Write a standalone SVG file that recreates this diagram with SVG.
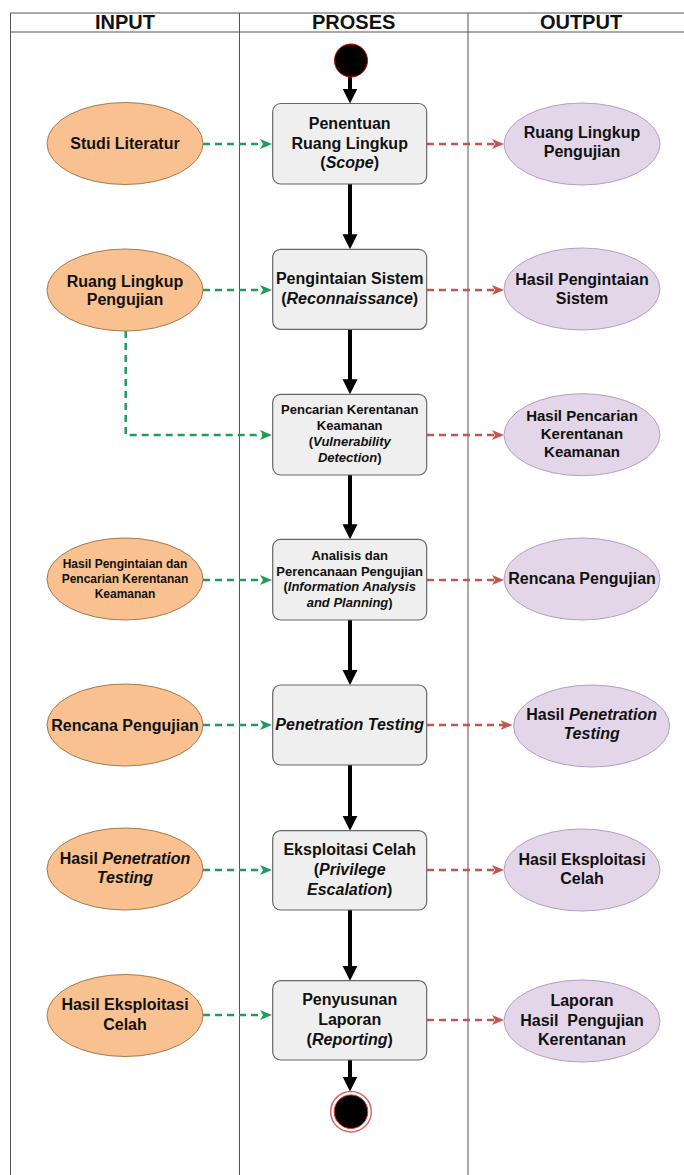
<svg xmlns="http://www.w3.org/2000/svg" width="684" height="1175" viewBox="0 0 684 1175">
<style>
text{font-family:"Liberation Sans",Arial,sans-serif;font-weight:bold;fill:#111;text-anchor:middle}
.hd{font-size:20px}
.t16{font-size:16px}
.t15{font-size:15px}
.t13{font-size:13px}
.t12{font-size:12px}
.i{font-style:italic}
.box{fill:#efefef;stroke:#666;stroke-width:1.2}
.in{fill:#f9c18f;stroke:#a77a50;stroke-width:1}
.out{fill:#e2d6e8;stroke:#b59fc2;stroke-width:1}
.grid{stroke:#555;stroke-width:1;fill:none}
.main{stroke:#000;stroke-width:4;fill:none}
.g{stroke:#1f9e5a;stroke-width:2.5;stroke-dasharray:7 5;fill:none}
.r{stroke:#c4564e;stroke-width:2.5;stroke-dasharray:7 5;fill:none}
</style>
<defs>
<marker id="am" markerUnits="userSpaceOnUse" markerWidth="16" markerHeight="16" refX="1" refY="7.5" orient="auto"><path d="M0,0 L15,7.5 L0,15 z" fill="#000"/></marker>
<marker id="ag" markerUnits="userSpaceOnUse" markerWidth="14" markerHeight="12" refX="3" refY="5" orient="auto"><path d="M0,0 L12,5 L0,10 L3,5 z" fill="#1f9e5a"/></marker>
<marker id="ar" markerUnits="userSpaceOnUse" markerWidth="14" markerHeight="12" refX="3" refY="5" orient="auto"><path d="M0,0 L12,5 L0,10 L3,5 z" fill="#c4564e"/></marker>
</defs>
<rect width="684" height="1175" fill="#fff"/>
<g id="table">
<path class="grid" d="M10.5,13 H684 M10.5,32 H684 M10.5,13 V1175 M239.5,13 V1175 M468,13 V1175"/>
<text class="hd" x="125" y="29.3">INPUT</text>
<text class="hd" x="353.7" y="29.3">PROSES</text>
<text class="hd" x="581" y="29.3">OUTPUT</text>
</g>
<g id="connectors">
<path class="main" d="M350,77 V89.5" marker-end="url(#am)"/>
<path class="main" d="M350,184 V235.3" marker-end="url(#am)"/>
<path class="main" d="M350,329.3 V380.3" marker-end="url(#am)"/>
<path class="main" d="M350,475 V525.3" marker-end="url(#am)"/>
<path class="main" d="M350,620 V671" marker-end="url(#am)"/>
<path class="main" d="M350,765 V816.7" marker-end="url(#am)"/>
<path class="main" d="M350,910 V966.7" marker-end="url(#am)"/>
<path class="main" d="M350,1060 V1077.5" marker-end="url(#am)"/>
<path class="g" d="M203,144 H263" marker-end="url(#ag)"/>
<path class="g" d="M203,290 H263" marker-end="url(#ag)"/>
<path class="g" d="M125.7,331 V435 H263" marker-end="url(#ag)"/>
<path class="g" d="M203,580 H263" marker-end="url(#ag)"/>
<path class="g" d="M203,725 H263" marker-end="url(#ag)"/>
<path class="g" d="M203,870 H263" marker-end="url(#ag)"/>
<path class="g" d="M203,1015 H263" marker-end="url(#ag)"/>
<path class="r" d="M427,144 H495" marker-end="url(#ar)"/>
<path class="r" d="M427,290 H495" marker-end="url(#ar)"/>
<path class="r" d="M427,435 H495" marker-end="url(#ar)"/>
<path class="r" d="M427,580 H495" marker-end="url(#ar)"/>
<path class="r" d="M427,725 H503.5" marker-end="url(#ar)"/>
<path class="r" d="M427,870 H495" marker-end="url(#ar)"/>
<path class="r" d="M427,1020 H495" marker-end="url(#ar)"/>
</g>
<g id="start"><circle cx="351" cy="60.5" r="16.5" fill="#000" stroke="#c00" stroke-width="1"/></g>
<g id="end"><circle cx="351" cy="1111.7" r="20.3" fill="#fff" stroke="#e06666" stroke-width="1.5"/><circle cx="351" cy="1111.7" r="16.8" fill="#000" stroke="#c33" stroke-width="1"/></g>

<g id="p1"><rect class="box" x="272.7" y="103.5" width="154" height="80.5" rx="8"/>
<text class="t16" x="349.7" y="129">Penentuan</text><text class="t16" x="349.7" y="149">Ruang Lingkup</text><text class="t16" x="349.7" y="168">(<tspan class="i">Scope</tspan>)</text></g>
<g id="p2"><rect class="box" x="272.7" y="249.3" width="154" height="80" rx="8"/>
<text class="t16" x="349.7" y="284.3">Pengintaian Sistem</text><text class="t16" x="349.7" y="304">(<tspan class="i">Reconnaissance</tspan>)</text></g>
<g id="p3"><rect class="box" x="272.7" y="394.3" width="154" height="80.7" rx="8"/>
<text class="t13" x="349.7" y="414">Pencarian Kerentanan</text><text class="t13" x="349.7" y="429.5">Keamanan</text><text class="t13" x="349.7" y="446">(<tspan class="i">Vulnerability</tspan></text><text class="t13" x="349.7" y="461.5"><tspan class="i">Detection</tspan>)</text></g>
<g id="p4"><rect class="box" x="272.7" y="539.3" width="154" height="80.7" rx="8"/>
<text class="t13" x="349.7" y="560">Analisis dan</text><text class="t13" x="349.7" y="575.5">Perencanaan Pengujian</text><text class="t13" x="349.7" y="591">(<tspan class="i">Information Analysis</tspan></text><text class="t13" x="349.7" y="606.5"><tspan class="i">and Planning</tspan>)</text></g>
<g id="p5"><rect class="box" x="272.7" y="685" width="154" height="80" rx="8"/>
<text class="t16 i" x="349.7" y="730">Penetration Testing</text></g>
<g id="p6"><rect class="box" x="272.7" y="830.7" width="154" height="79.3" rx="8"/>
<text class="t16" x="349.7" y="855">Eksploitasi Celah</text><text class="t16" x="349.7" y="875">(<tspan class="i">Privilege</tspan></text><text class="t16" x="349.7" y="895"><tspan class="i">Escalation</tspan>)</text></g>
<g id="p7"><rect class="box" x="272.7" y="980.7" width="154" height="79.3" rx="8"/>
<text class="t16" x="349.7" y="1005">Penyusunan</text><text class="t16" x="349.7" y="1025">Laporan</text><text class="t16" x="349.7" y="1045">(<tspan class="i">Reporting</tspan>)</text></g>

<g id="in1"><ellipse class="in" cx="125" cy="143.5" rx="78" ry="41"/><text class="t16" x="125" y="149">Studi Literatur</text></g>
<g id="in2"><ellipse class="in" cx="125" cy="290" rx="78" ry="41"/><text class="t16" x="125" y="286.7">Ruang Lingkup</text><text class="t16" x="125" y="305.3">Pengujian</text></g>
<g id="in4"><ellipse class="in" cx="125" cy="579" rx="78" ry="41"/><text class="t12" x="125" y="568">Hasil Pengintaian dan</text><text class="t12" x="125" y="583.3">Pencarian Kerentanan</text><text class="t12" x="125" y="598">Keamanan</text></g>
<g id="in5"><ellipse class="in" cx="125" cy="725" rx="78" ry="41"/><text class="t16" x="125" y="730.7">Rencana Pengujian</text></g>
<g id="in6"><ellipse class="in" cx="125" cy="869" rx="78" ry="41"/><text class="t16" x="125" y="864.3">Hasil <tspan class="i">Penetration</tspan></text><text class="t16 i" x="125" y="883.3">Testing</text></g>
<g id="in7"><ellipse class="in" cx="125" cy="1015.5" rx="78" ry="41"/><text class="t16" x="125" y="1010">Hasil Eksploitasi</text><text class="t16" x="125" y="1030">Celah</text></g>

<g id="out1"><ellipse class="out" cx="582" cy="144" rx="78" ry="41"/><text class="t16" x="582" y="138">Ruang Lingkup</text><text class="t16" x="582" y="157">Pengujian</text></g>
<g id="out2"><ellipse class="out" cx="582" cy="289" rx="78" ry="41"/><text class="t16" x="582" y="285">Hasil Pengintaian</text><text class="t16" x="582" y="304">Sistem</text></g>
<g id="out3"><ellipse class="out" cx="582" cy="434.7" rx="78" ry="41"/><text class="t15" x="582" y="420.7">Hasil Pencarian</text><text class="t15" x="582" y="439">Kerentanan</text><text class="t15" x="582" y="457">Keamanan</text></g>
<g id="out4"><ellipse class="out" cx="582" cy="579" rx="78" ry="41"/><text class="t16" x="582" y="584.3">Rencana Pengujian</text></g>
<g id="out5"><ellipse class="out" cx="591.6" cy="726" rx="78" ry="41"/><text class="t16" x="591.6" y="720">Hasil <tspan class="i">Penetration</tspan></text><text class="t16 i" x="591.6" y="739">Testing</text></g>
<g id="out6"><ellipse class="out" cx="582" cy="870" rx="78" ry="41"/><text class="t16" x="582" y="865">Hasil Eksploitasi</text><text class="t16" x="582" y="884.3">Celah</text></g>
<g id="out7"><ellipse class="out" cx="582" cy="1021" rx="78" ry="41"/><text class="t16" x="582" y="1006">Laporan</text><text class="t16" x="582" y="1026" xml:space="preserve">Hasil  Pengujian</text><text class="t16" x="582" y="1045">Kerentanan</text></g>
</svg>
